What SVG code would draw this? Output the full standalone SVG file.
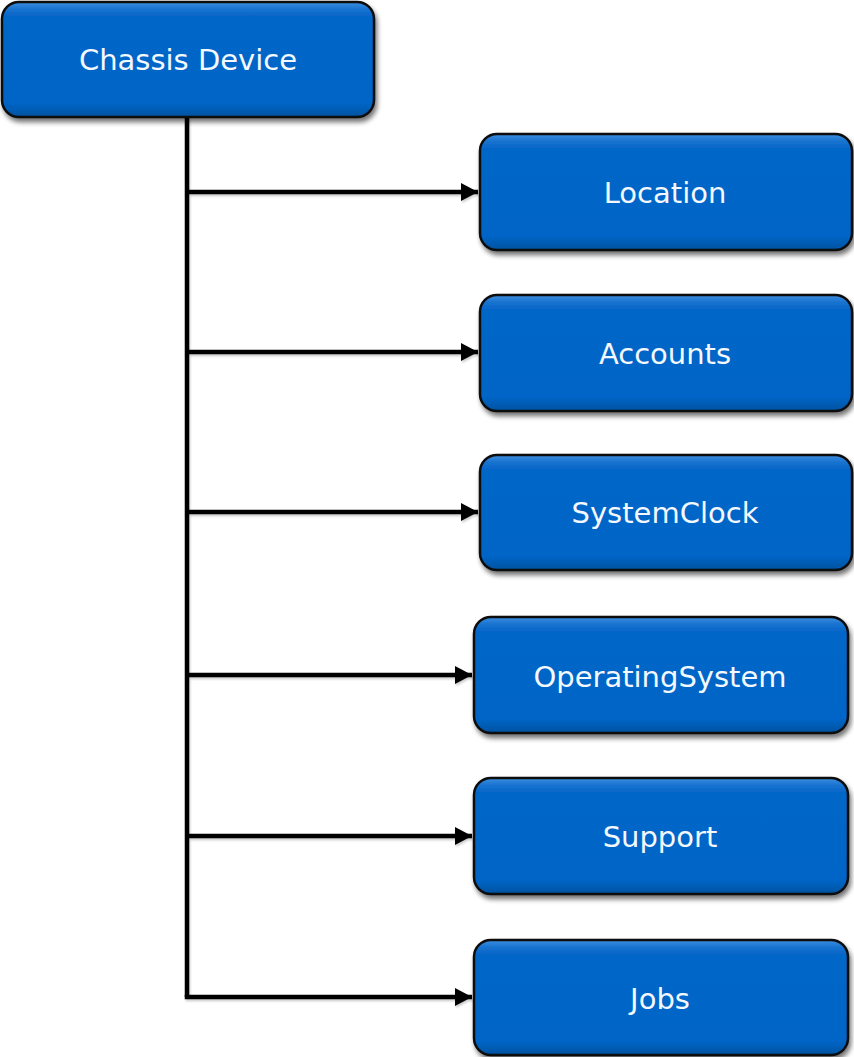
<svg xmlns="http://www.w3.org/2000/svg" width="854" height="1057" viewBox="0 0 854 1057">
<defs>
<linearGradient id="g" x1="0" y1="0" x2="0" y2="1">
<stop offset="0" stop-color="#3d8fe0"/>
<stop offset="0.06" stop-color="#1a74d0"/>
<stop offset="0.12" stop-color="#0666c8"/>
<stop offset="0.88" stop-color="#0565c6"/>
<stop offset="1" stop-color="#03529f"/>
</linearGradient>
<filter id="sh" x="-10%" y="-10%" width="130%" height="140%">
<feGaussianBlur in="SourceAlpha" stdDeviation="2.5"/>
<feOffset dx="2" dy="4" result="b"/>
<feComponentTransfer><feFuncA type="linear" slope="0.55"/></feComponentTransfer>
<feMerge><feMergeNode/><feMergeNode in="SourceGraphic"/></feMerge>
</filter>
<filter id="lsh" x="-10%" y="-10%" width="120%" height="120%">
<feGaussianBlur in="SourceAlpha" stdDeviation="1"/>
<feOffset dx="1" dy="2"/>
<feComponentTransfer><feFuncA type="linear" slope="0.2"/></feComponentTransfer>
<feMerge><feMergeNode/><feMergeNode in="SourceGraphic"/></feMerge>
</filter>
<marker id="arr" markerWidth="18" markerHeight="20" refX="17" refY="10" orient="auto" markerUnits="userSpaceOnUse">
<path d="M0,1 L17,10 L0,19 z" fill="#000"/>
</marker>
</defs>
<style>
.box{fill:url(#g);stroke:#0d0d0d;stroke-width:2.5;filter:url(#sh)}
.lbl{font-family:"DejaVu Sans",Verdana,sans-serif;font-size:29px;fill:#f4f8ff;text-anchor:middle;dominant-baseline:central}
.c{stroke:#000;stroke-width:4.5;fill:none}
</style>
<g id="connectors" filter="url(#lsh)">
<path class="c" d="M187,117 V997"/>
<path class="c" d="M187,192 H478" marker-end="url(#arr)"/>
<path class="c" d="M187,352 H478" marker-end="url(#arr)"/>
<path class="c" d="M187,512 H478" marker-end="url(#arr)"/>
<path class="c" d="M187,675 H472" marker-end="url(#arr)"/>
<path class="c" d="M187,836 H472" marker-end="url(#arr)"/>
<path class="c" d="M184.75,997 H472" marker-end="url(#arr)"/>
</g>
<g id="chassis"><rect class="box" x="2" y="2" width="372" height="115" rx="17"/><text class="lbl" x="188" y="60">Chassis Device</text></g>
<g id="location"><rect class="box" x="480" y="134" width="372" height="116" rx="17"/><text class="lbl" x="665" y="193">Location</text></g>
<g id="accounts"><rect class="box" x="480" y="295" width="372" height="116" rx="17"/><text class="lbl" x="665" y="354">Accounts</text></g>
<g id="systemclock"><rect class="box" x="480" y="455" width="372" height="115" rx="17"/><text class="lbl" x="665" y="513">SystemClock</text></g>
<g id="operatingsystem"><rect class="box" x="474" y="617" width="374" height="116" rx="17"/><text class="lbl" x="660" y="677">OperatingSystem</text></g>
<g id="support"><rect class="box" x="474" y="778" width="374" height="116" rx="17"/><text class="lbl" x="660" y="837">Support</text></g>
<g id="jobs"><rect class="box" x="474" y="940" width="374" height="115" rx="17"/><text class="lbl" x="660" y="999">Jobs</text></g>
</svg>
